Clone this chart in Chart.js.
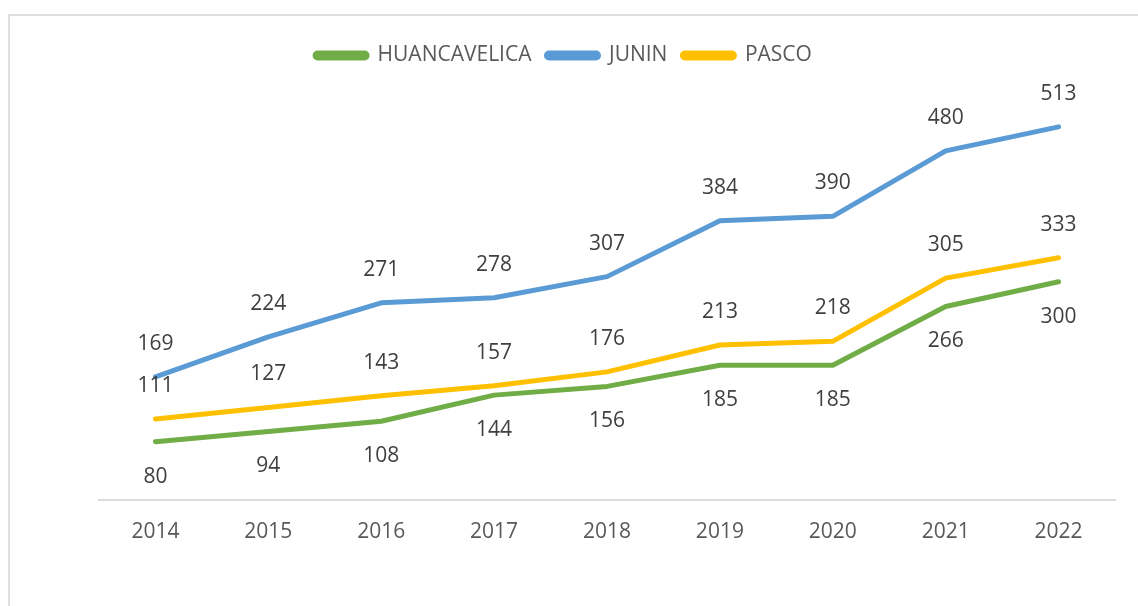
<!DOCTYPE html>
<html>
<head>
<meta charset="utf-8">
<script src="https://cdn.jsdelivr.net/npm/chart.js@4.4.0/dist/chart.umd.min.js"></script>
<style>
  html, body { margin: 0; padding: 0; background: #ffffff; overflow: hidden; }
  #frame { position: absolute; left: 8px; top: 14px; width: 1200px; height: 700px; border: 2px solid #e0e0e0; box-sizing: border-box; }
  #wrap { position: absolute; left: 0; top: 0; width: 1138px; height: 606px; }
</style>
</head>
<body>
<div id="frame"></div>
<div id="wrap"><canvas id="c" width="1138" height="606"></canvas></div>
<script>
const years = ['2014', '2015', '2016', '2017', '2018', '2019', '2020', '2021', '2022'];
const huancavelica = [80, 94, 108, 144, 156, 185, 185, 266, 300];
const junin = [169, 224, 271, 278, 307, 384, 390, 480, 513];
const pasco = [111, 127, 143, 157, 176, 213, 218, 305, 333];

const FONT = "'Open Sans', 'Noto Sans', sans-serif";

const dataLabels = {
  id: 'dataLabels',
  afterDatasetsDraw(chart) {
    const ctx = chart.ctx;
    ctx.save();
    ctx.font = '21px ' + FONT;
    ctx.fillStyle = '#404040';
    ctx.textAlign = 'center';
    ctx.textBaseline = 'middle';
    chart.data.datasets.forEach((ds, i) => {
      const meta = chart.getDatasetMeta(i);
      const off = ds.labelBelow ? 35 : -33;
      meta.data.forEach((pt, j) => {
        ctx.fillText(String(ds.data[j]), pt.x, pt.y + off);
      });
    });
    ctx.restore();
  }
};

new Chart(document.getElementById('c'), {
  type: 'line',
  data: {
    labels: years,
    datasets: [
      { label: 'HUANCAVELICA', data: huancavelica, borderColor: '#70AD47', backgroundColor: '#70AD47', labelBelow: true },
      { label: 'JUNIN', data: junin, borderColor: '#5B9BD5', backgroundColor: '#5B9BD5', labelBelow: false },
      { label: 'PASCO', data: pasco, borderColor: '#FFC000', backgroundColor: '#FFC000', labelBelow: false }
    ]
  },
  options: {
    responsive: false,
    animation: false,
    devicePixelRatio: 1,
    layout: { padding: { left: 12, right: 23, top: 30, bottom: 49 } },
    elements: {
      line: { borderWidth: 5, tension: 0, borderCapStyle: 'round', borderJoinStyle: 'round' },
      point: { radius: 0, hoverRadius: 0 }
    },
    plugins: {
      tooltip: { enabled: false },
      legend: {
        position: 'top',
        labels: {
          font: { family: FONT, size: 21 },
          color: '#595959',
          boxWidth: 52,
          boxHeight: 5,
          useBorderRadius: true,
          borderRadius: 2.5,
          padding: 15
        }
      }
    },
    scales: {
      x: {
        offset: true,
        grid: { display: false },
        border: { display: true, color: '#dcdcdc', width: 2 },
        ticks: { font: { family: FONT, size: 21 }, color: '#595959', padding: 12 }
      },
      y: {
        min: 0,
        max: 583,
        grid: { display: false },
        border: { display: false },
        ticks: { display: false },
        afterFit: (s) => { s.width = 87; }
      }
    }
  },
  plugins: [dataLabels]
});
</script>
</body>
</html>
